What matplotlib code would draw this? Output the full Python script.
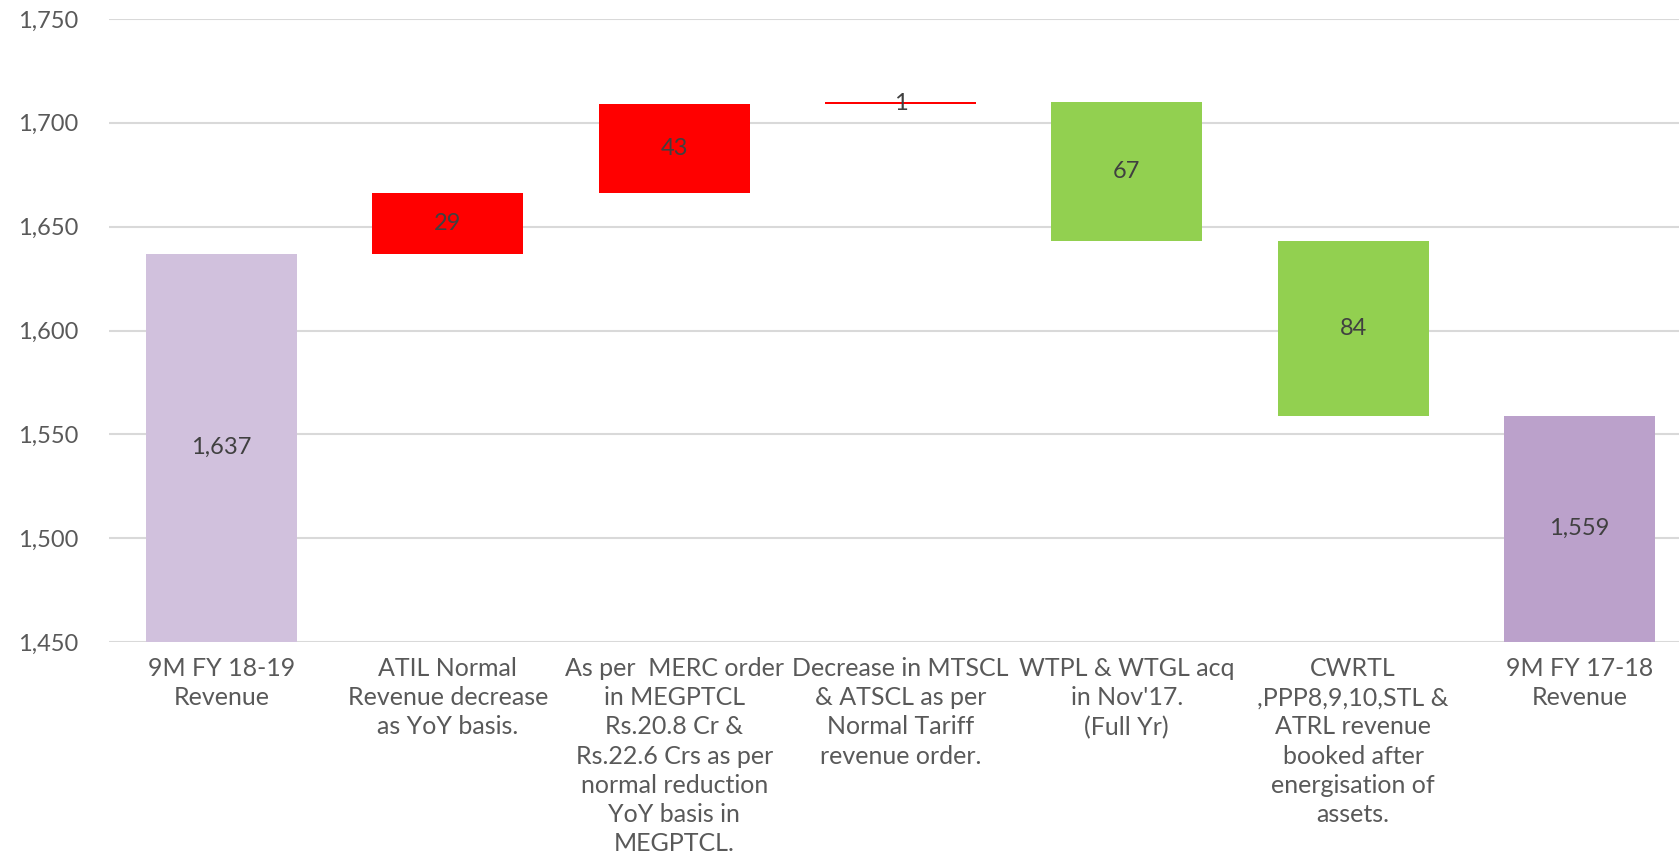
import matplotlib.pyplot as plt
import numpy as np

# chart values
categories = [
    "9M FY 18-19\nRevenue",
    "ATIL Normal\nRevenue decrease\nas YoY basis.",
    "As per  MERC order\nin MEGPTCL\nRs.20.8 Cr &\nRs.22.6 Crs as per\nnormal reduction\nYoY basis in\nMEGPTCL.",
    "Decrease in MTSCL\n& ATSCL as per\nNormal Tariff\nrevenue order.",
    "WTPL & WTGL acq\nin Nov'17.\n(Full Yr)",
    "CWRTL\n,PPP8,9,10,STL &\nATRL revenue\nbooked after\nenergisation of\nassets.",
    "9M FY 17-18\nRevenue",
]
start_value = 1637
changes = [29, 43, 1, -67, -84]
end_value = 1559
yticks = [1450, 1500, 1550, 1600, 1650, 1700, 1750]

text_grey = "#595959"
label_dark = "#404040"
grid_grey = "#D9D9D9"


def build_bars(start, deltas, end, base):
    bottoms, heights, colors = [base], [start - base], ["#D1C1DD"]
    level = start
    for d in deltas:
        bottoms.append(min(level, level + d))
        heights.append(abs(d))
        colors.append("#FF0000" if d > 0 else "#92D050")
        level += d
    bottoms.append(base)
    heights.append(end - base)
    colors.append("#BBA1CB")
    return bottoms, heights, colors


def main():
    plt.rcParams["font.family"] = ["Lato", "DejaVu Sans"]
    fig = plt.figure(figsize=(16.79, 8.56), dpi=100)
    ax = fig.add_axes([109 / 1679, 214 / 856, 1570 / 1679, 623 / 856])

    bottoms, heights, colors = build_bars(start_value, changes, end_value, yticks[0])
    x = np.arange(len(categories))
    ax.bar(x, heights, bottom=bottoms, width=0.667, color=colors, zorder=3)

    labels = [start_value] + [abs(c) for c in changes] + [end_value]
    for xi, b, h, v in zip(x, bottoms, heights, labels):
        ax.text(xi, b + h / 2, f"{v:,}", ha="center", va="center",
                fontsize=17, color=label_dark, zorder=4)

    ax.set_ylim(yticks[0], yticks[-1])
    ax.set_xlim(-0.497, 6.44)
    ax.set_yticks(yticks)
    ax.set_yticklabels([f"{t:,}" for t in yticks])
    ax.set_xticks(x)
    ax.set_xticklabels(categories, linespacing=1.32)

    ax.tick_params(axis="y", length=0, pad=22, labelsize=17, labelcolor=text_grey)
    ax.tick_params(axis="x", length=0, pad=11, labelsize=18, labelcolor=text_grey)
    for lbl in ax.get_xticklabels():
        lbl.set_verticalalignment("top")

    ax.grid(axis="y", color=grid_grey, linewidth=1.5, zorder=0)
    for side in ["top", "right", "left", "bottom"]:
        ax.spines[side].set_visible(False)

    fig.savefig("out.png", dpi=100, facecolor="white")
    plt.close(fig)


main()
